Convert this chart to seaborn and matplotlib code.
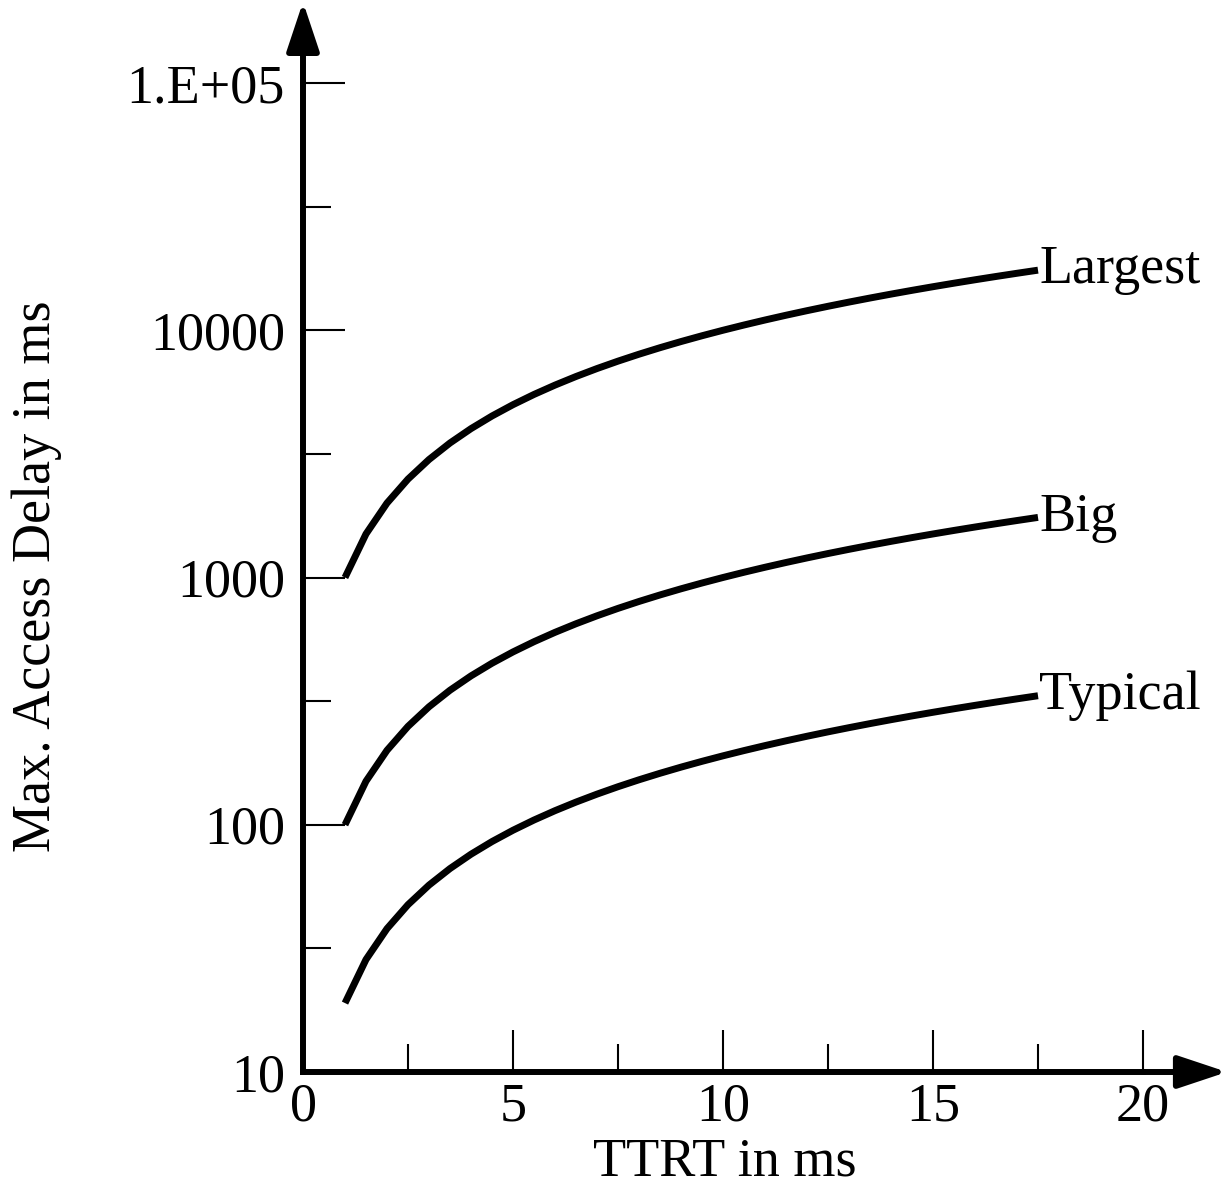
import numpy as np
import pandas as pd
import matplotlib
matplotlib.use("Agg")
import matplotlib.pyplot as plt
from matplotlib.ticker import FixedLocator, NullFormatter
import seaborn as sns

# =========================
# Data
# =========================
ttrt = [1.0, 1.5, 2.0, 2.5, 3.0, 3.5, 4.0, 4.5, 5.0, 5.5, 6.0, 6.5, 7.0, 7.5,
        8.0, 8.5, 9.0, 9.5, 10.0, 10.5, 11.0, 11.5, 12.0, 12.5, 13.0, 13.5,
        14.0, 14.5, 15.0, 15.5, 16.0, 16.5, 17.0, 17.5]

largest = [1000, 1500, 2000, 2500, 3000, 3500, 4000, 4500, 5000, 5500, 6000,
           6500, 7000, 7500, 8000, 8500, 9000, 9500, 10000, 10500, 11000,
           11500, 12000, 12500, 13000, 13500, 14000, 14500, 15000, 15500,
           16000, 16500, 17000, 17500]

big = [100, 150, 200, 250, 300, 350, 400, 450, 500, 550, 600, 650, 700, 750,
       800, 850, 900, 950, 1000, 1050, 1100, 1150, 1200, 1250, 1300, 1350,
       1400, 1450, 1500, 1550, 1600, 1650, 1700, 1750]

typical = [19, 28.5, 38, 47.5, 57, 66.5, 76, 85.5, 95, 104.5, 114, 123.5,
           133, 142.5, 152, 161.5, 171, 180.5, 190, 199.5, 209, 218.5, 228,
           237.5, 247, 256.5, 266, 275.5, 285, 294.5, 304, 313.5, 323, 332.5]

series_names = ["Largest", "Big", "Typical"]

y_ticks = [10, 100, 1000, 10000, 100000]
y_tick_labels = ["10", "100", "1000", "10000", "1.E+05"]
y_minor = [31.6, 316, 3162, 31623]
x_ticks = [0, 5, 10, 15, 20]
x_minor = [2.5, 7.5, 12.5, 17.5]

df = pd.DataFrame({
    "TTRT": ttrt * 3,
    "delay": largest + big + typical,
    "class": ["Largest"] * len(ttrt) + ["Big"] * len(ttrt) + ["Typical"] * len(ttrt),
})

# =========================
# Plot
# =========================
sns.set_style("ticks")
plt.rcParams["font.family"] = ["Liberation Serif", "DejaVu Serif"]
plt.rcParams["text.color"] = "black"
plt.rcParams["xtick.color"] = "black"
plt.rcParams["ytick.color"] = "black"

FS = 39

fig = plt.figure(figsize=(12.28, 11.90), dpi=100)
ax = fig.add_axes([303 / 1228, 1 - 1072 / 1190, 840 / 1228, 989 / 1190])

sns.lineplot(data=df, x="TTRT", y="delay", hue="class", units="class",
             estimator=None, palette=["black"] * 3, linewidth=5,
             solid_capstyle="butt", legend=False, ax=ax, zorder=5)

ax.set_yscale("log")
ax.set_xlim(0, 20)
ax.set_ylim(10, 100000)

ax.set_yticks(y_ticks)
ax.set_yticklabels(y_tick_labels)
ax.yaxis.set_minor_locator(FixedLocator(y_minor))
ax.yaxis.set_minor_formatter(NullFormatter())
ax.set_xticks(x_ticks)
ax.set_xticklabels([str(t) for t in x_ticks])
ax.xaxis.set_minor_locator(FixedLocator(x_minor))
ax.xaxis.set_minor_formatter(NullFormatter())

ax.tick_params(which="major", direction="in", length=30, width=1.5,
               labelsize=FS, color="black", labelcolor="black")
ax.tick_params(which="minor", direction="in", length=20, width=1.5, color="black")
ax.tick_params(axis="y", which="major", pad=13)
ax.tick_params(axis="x", which="major", pad=7)

ax.set_xlabel("")
ax.set_ylabel("")

for side in ["top", "right"]:
    ax.spines[side].set_visible(False)
for side in ["left", "bottom"]:
    ax.spines[side].set_linewidth(4.3)
    ax.spines[side].set_color("black")
    ax.spines[side].set_capstyle("projecting")

# axis arrows
arrow_kw = dict(arrowstyle="-|>,head_length=1.5,head_width=0.5", lw=4.3,
                color="black", shrinkA=0, shrinkB=0, mutation_scale=20)
ax.annotate("", xy=(0, 1.082), xytext=(0, 1.0), xycoords="axes fraction",
            textcoords="axes fraction", arrowprops=arrow_kw, annotation_clip=False)
ax.annotate("", xy=(1.1, 0), xytext=(1.0, 0), xycoords="axes fraction",
            textcoords="axes fraction", arrowprops=arrow_kw, annotation_clip=False)

# curve labels at the line ends
for name, vals in zip(series_names, [largest, big, typical]):
    ax.text(ttrt[-1] + 0.03, vals[-1], name, ha="left", va="center",
            fontsize=FS, clip_on=False)

fig.text(725 / 1228, 1 - 1162 / 1190, "TTRT in ms", ha="center", va="center",
         fontsize=FS)
fig.text(37 / 1228, 1 - 576 / 1190, "Max. Access Delay in ms", ha="center",
         va="center", rotation=90, fontsize=FS)

fig.savefig("out.png", dpi=100)
